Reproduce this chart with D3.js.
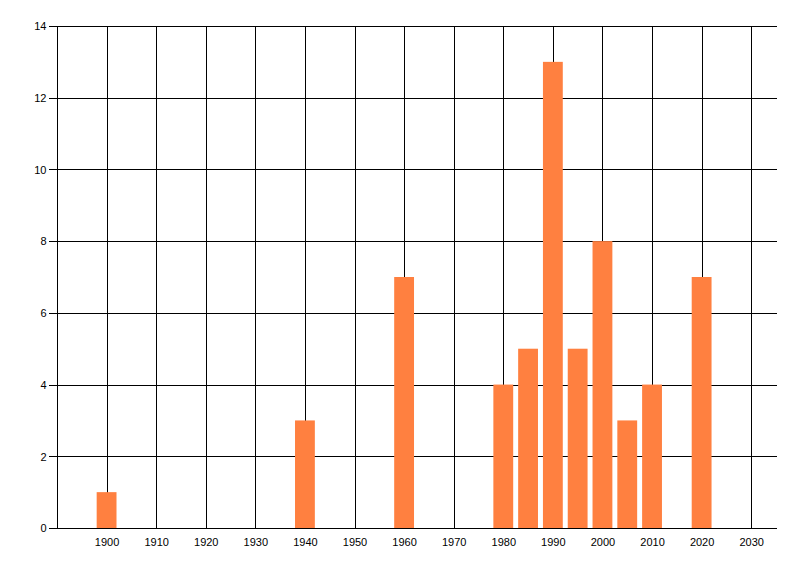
<!DOCTYPE html>
<html>
<head>
<meta charset="utf-8">
<script src="https://cdn.jsdelivr.net/npm/d3@7/dist/d3.min.js"></script>
<style>
  body { margin: 0; background: #fff; }
  text { font-family: "Liberation Sans", Arial, sans-serif; font-size: 11px; fill: #000; }
</style>
</head>
<body>
<svg id="chart"></svg>
<script>
// data
var years  = [1900, 1940, 1960, 1980, 1985, 1990, 1995, 2000, 2005, 2010, 2020];
var counts = [1, 3, 7, 4, 5, 13, 5, 8, 3, 4, 7];
var xTicks = [1900, 1910, 1920, 1930, 1940, 1950, 1960, 1970, 1980, 1990, 2000, 2010, 2020, 2030];
var yTicks = [0, 2, 4, 6, 8, 10, 12, 14];

var size = { width: 800, height: 576 };
var margin = { top: 26, right: 24, bottom: 48, left: 57 };
var width = size.width - margin.left - margin.right;
var height = size.height - margin.top - margin.bottom;

var svg = d3.select("#chart")
  .attr("width", size.width)
  .attr("height", size.height)
  .append("g")
  .attr("transform", "translate(" + (margin.left + 0.5) + "," + (margin.top + 0.5) + ")");

var x = d3.scaleLinear().domain([1890, 2035]).range([0, width]);
var y = d3.scaleLinear().domain([0, 14]).range([height, 0]);

// vertical grid lines
svg.append("g").selectAll("line")
  .data(xTicks)
  .enter().append("line")
  .attr("x1", d => Math.round(x(d)))
  .attr("x2", d => Math.round(x(d)))
  .attr("y1", 0)
  .attr("y2", height)
  .attr("stroke", "#000")
  .attr("shape-rendering", "crispEdges");

// horizontal grid lines + y ticks
svg.append("g").selectAll("line")
  .data(yTicks)
  .enter().append("line")
  .attr("x1", -9)
  .attr("x2", width)
  .attr("y1", d => Math.round(y(d)))
  .attr("y2", d => Math.round(y(d)))
  .attr("stroke", "#000")
  .attr("shape-rendering", "crispEdges");

// left axis line
svg.append("line")
  .attr("x1", 0).attr("x2", 0)
  .attr("y1", 0).attr("y2", height)
  .attr("stroke", "#000")
  .attr("shape-rendering", "crispEdges");

// bars
var barW = x(1894) - x(1890);
svg.append("g").selectAll("rect")
  .data(years)
  .enter().append("rect")
  .attr("x", d => x(d) - barW / 2 - 0.5)
  .attr("y", (d, i) => y(counts[i]) - 0.5)
  .attr("width", barW)
  .attr("height", (d, i) => height - y(counts[i]))
  .attr("fill", "#ff8040");

// bottom axis line on top
svg.append("line")
  .attr("x1", 0).attr("x2", width)
  .attr("y1", height).attr("y2", height)
  .attr("stroke", "#000")
  .attr("shape-rendering", "crispEdges");

// y labels
svg.append("g").selectAll("text")
  .data(yTicks)
  .enter().append("text")
  .attr("x", -11)
  .attr("y", d => y(d))
  .attr("dy", "0.35em")
  .attr("text-anchor", "end")
  .text(d => d);

// x labels
svg.append("g").selectAll("text")
  .data(xTicks)
  .enter().append("text")
  .attr("x", d => x(d))
  .attr("y", height + 17)
  .attr("text-anchor", "middle")
  .text(d => d);
</script>
</body>
</html>
